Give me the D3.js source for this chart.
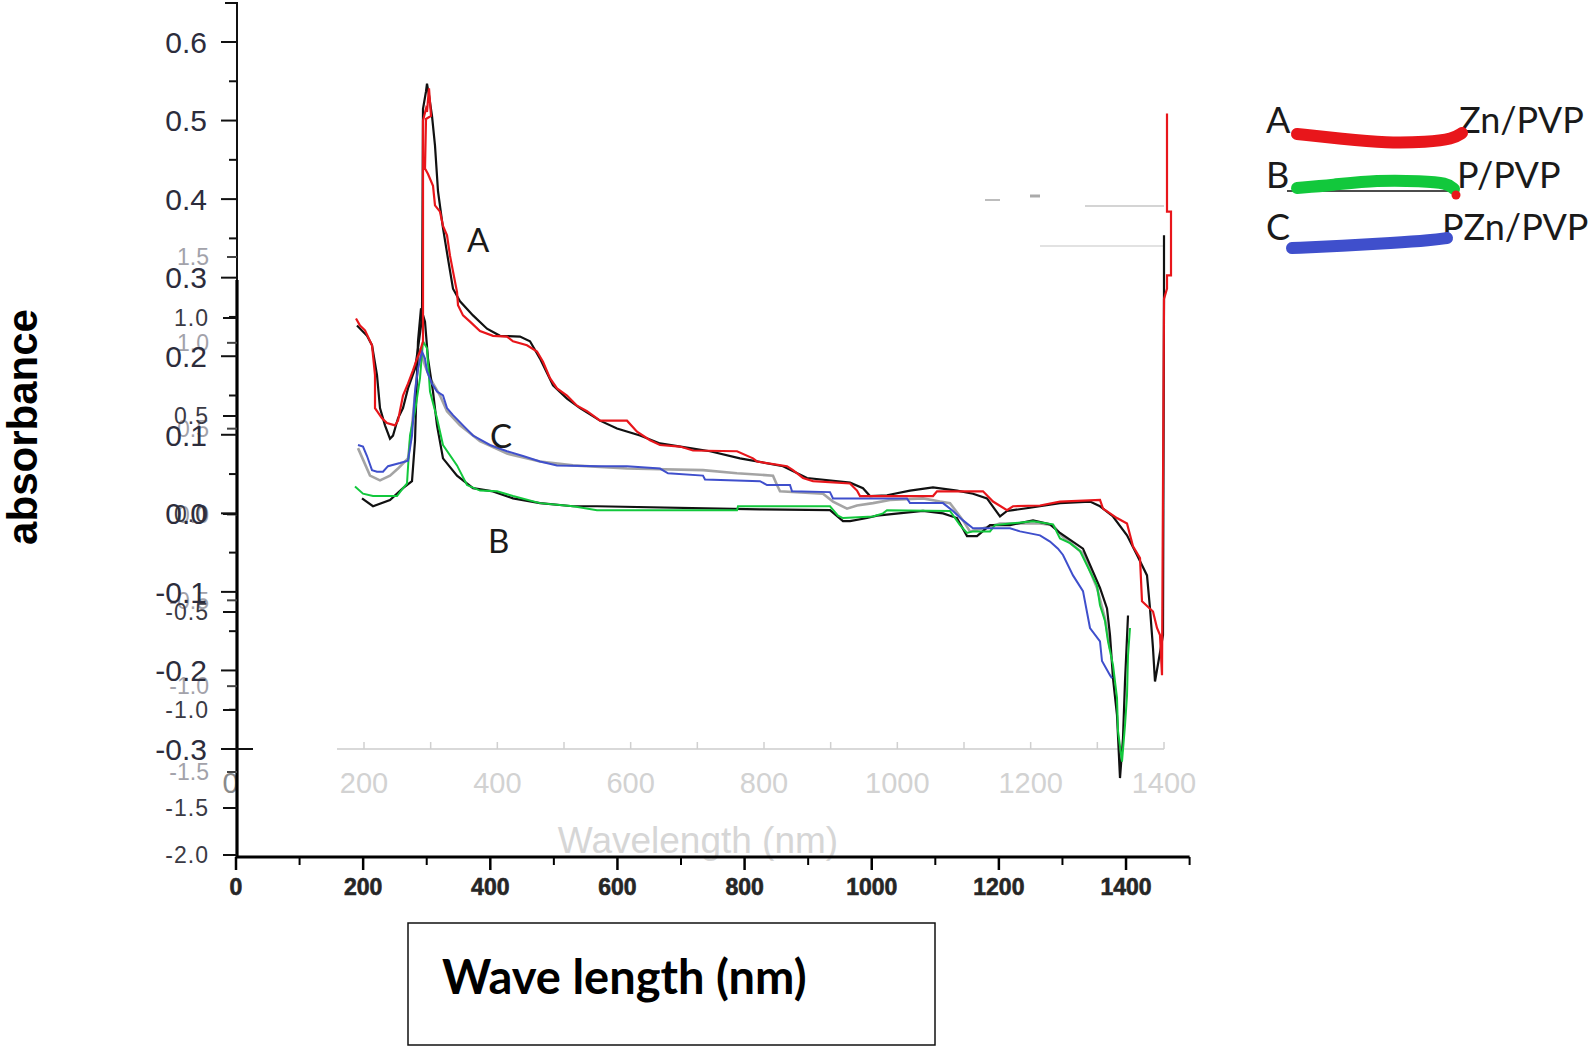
<!DOCTYPE html>
<html>
<head>
<meta charset="utf-8">
<script src="https://cdn.jsdelivr.net/npm/d3@7"></script>
<style>
  html, body { margin: 0; padding: 0; background: #fff; }
  svg { display: block; }
</style>
</head>
<body>
<svg id="chart" width="1594" height="1050"></svg>
<script>
// ---------------- DATA ----------------
// [wavelength (nm), absorbance]
const seriesA_red = [[188,0.248],[194,0.239],[201.5,0.233],[212,0.214],[216.5,0.176],[216.5,0.134],[227,0.121],[234.5,0.115],[246.5,0.112],[251,0.118],[258.5,0.150],[266,0.165],[273.5,0.182],[279.5,0.197],[284,0.206],[288.5,0.219],[288.5,0.500],[293,0.515],[294.5,0.511],[297.5,0.541],[300.5,0.506],[293,0.502],[291.5,0.439],[296,0.432],[303.5,0.417],[306.5,0.392],[314,0.384],[318.5,0.366],[324.5,0.354],[329,0.328],[333.5,0.308],[339.5,0.282],[341,0.265],[348.5,0.252],[359,0.244],[374,0.232],[393.5,0.226],[414.5,0.225],[423.5,0.219],[444.5,0.214],[459.5,0.206],[468.5,0.193],[479,0.172],[489.5,0.159],[504.5,0.150],[519.5,0.137],[534.5,0.130],[549.5,0.121],[554,0.118],[594.5,0.118],[609.5,0.104],[629,0.093],[644,0.087],[674,0.085],[693.5,0.080],[759.5,0.079],[783.5,0.070],[789.5,0.066],[834.5,0.060],[843.5,0.055],[858.5,0.045],[873.5,0.041],[929,0.038],[939.5,0.029],[944,0.022],[1053.5,0.022],[1059.5,0.028],[1128.5,0.028],[1143.5,0.015],[1164.5,0.004],[1173.5,0.009],[1214,0.010],[1244,0.015],[1304,0.017],[1308.5,0.006],[1329.5,-0.006],[1344.5,-0.013],[1353.5,-0.042],[1364,-0.057],[1367,-0.112],[1383.5,-0.125],[1389.5,-0.146],[1394,-0.155],[1397,-0.206],[1400,0.273],[1404.5,0.286],[1404.5,0.303],[1410.5,0.303],[1410.5,0.384],[1404.5,0.384],[1404.5,0.509]];

const seriesA_black = [[189.5,0.239],[204.5,0.226],[212,0.214],[219.5,0.176],[224,0.134],[231.5,0.112],[239,0.095],[243.5,0.099],[251,0.121],[258.5,0.134],[266,0.159],[276.5,0.184],[281,0.210],[287,0.248],[288.5,0.515],[293,0.537],[294.5,0.547],[297.5,0.532],[302,0.506],[306.5,0.468],[311,0.410],[318.5,0.363],[326,0.324],[333.5,0.286],[344,0.270],[363.5,0.252],[384.5,0.235],[404,0.226],[434,0.225],[449,0.219],[464,0.197],[483.5,0.163],[504.5,0.146],[524,0.134],[554,0.118],[579.5,0.108],[614,0.099],[644,0.089],[689,0.083],[719,0.079],[764,0.070],[828.5,0.060],[864.5,0.045],[929,0.039],[948.5,0.032],[959,0.022],[984.5,0.023],[1019,0.029],[1053.5,0.033],[1089.5,0.029],[1113.5,0.025],[1134.5,0.019],[1154,-0.004],[1164.5,0.003],[1173.5,0.004],[1214,0.009],[1244,0.013],[1289,0.015],[1304,0.009],[1323.5,-0.004],[1344.5,-0.028],[1359.5,-0.053],[1374.5,-0.079],[1379,-0.121],[1383.5,-0.172],[1386.5,-0.214],[1398.5,-0.155],[1400,0.273],[1400,0.354]];

const seriesB_green = [[186.5,0.034],[198.5,0.025],[213.5,0.022],[249.5,0.022],[258.5,0.032],[264.5,0.038],[269,0.099],[276.5,0.130],[284,0.172],[288.5,0.219],[294.5,0.210],[299,0.155],[309.5,0.121],[318.5,0.087],[339.5,0.061],[354.5,0.036],[374,0.029],[399.5,0.028],[423.5,0.022],[464,0.013],[513.5,0.009],[549.5,0.004],[759.5,0.004],[761,0.009],[899,0.009],[911,-0.003],[918.5,-0.006],[963.5,-0.004],[978.5,0.000],[984.5,0.004],[1079,0.003],[1094,-0.015],[1104.5,-0.025],[1113.5,-0.023],[1139,-0.023],[1146.5,-0.015],[1169,-0.013],[1203.5,-0.010],[1233.5,-0.014],[1244,-0.032],[1259,-0.038],[1274,-0.048],[1289,-0.074],[1299.5,-0.092],[1304,-0.117],[1311.5,-0.137],[1316,-0.163],[1323.5,-0.193],[1329.5,-0.235],[1331,-0.277],[1337,-0.316],[1341.5,-0.270],[1344.5,-0.232],[1346,-0.181],[1349,-0.146]];

const seriesB_black = [[197,0.019],[213.5,0.009],[239,0.017],[258.5,0.032],[272,0.041],[276.5,0.092],[281,0.219],[285.5,0.261],[291.5,0.244],[296,0.197],[303.5,0.155],[309.5,0.112],[318.5,0.070],[339.5,0.048],[363.5,0.032],[393.5,0.028],[423.5,0.019],[464,0.013],[513.5,0.009],[549.5,0.009],[794,0.005],[899,0.004],[918.5,-0.010],[929,-0.010],[954.5,-0.006],[969.5,-0.003],[1038.5,0.003],[1068.5,0.000],[1089.5,-0.006],[1104.5,-0.029],[1119.5,-0.029],[1139,-0.015],[1169,-0.015],[1203.5,-0.009],[1229,-0.014],[1244,-0.025],[1278.5,-0.045],[1304,-0.095],[1314.5,-0.121],[1319,-0.155],[1323.5,-0.210],[1329.5,-0.257],[1334,-0.337],[1338.5,-0.286],[1341.5,-0.214],[1346,-0.130]];

const seriesC_blue = [[191,0.087],[198.5,0.085],[204.5,0.073],[212,0.055],[219.5,0.053],[228.5,0.053],[236,0.060],[254,0.064],[266,0.067],[272,0.099],[276.5,0.155],[281,0.184],[287,0.206],[291.5,0.197],[294.5,0.181],[302,0.165],[309.5,0.155],[318.5,0.150],[324.5,0.134],[333.5,0.125],[348.5,0.112],[363.5,0.099],[389,0.087],[414.5,0.079],[438.5,0.073],[464,0.066],[489.5,0.061],[554,0.060],[594.5,0.060],[644,0.057],[656,0.051],[708.5,0.048],[711.5,0.043],[794,0.041],[804.5,0.036],[839,0.036],[842,0.028],[899,0.027],[903.5,0.019],[1014.5,0.019],[1019,0.013],[1068.5,0.013],[1083.5,0.003],[1098.5,-0.009],[1113.5,-0.019],[1169,-0.019],[1184,-0.023],[1214,-0.028],[1229,-0.036],[1241,-0.045],[1248.5,-0.053],[1263.5,-0.079],[1278.5,-0.099],[1289,-0.146],[1304,-0.163],[1307,-0.188],[1319,-0.206],[1322,-0.210]];

const seriesC_grey = [[191,0.083],[209,0.048],[224,0.042],[239,0.048],[251,0.057],[266,0.070],[272,0.112],[279.5,0.176],[284,0.210],[291.5,0.188],[299,0.172],[314,0.150],[324.5,0.130],[344,0.112],[374,0.092],[414.5,0.076],[464,0.066],[513.5,0.061],[594.5,0.057],[708.5,0.055],[759.5,0.051],[813.5,0.048],[819.5,0.036],[824,0.028],[888.5,0.025],[903.5,0.015],[924.5,0.006],[939.5,0.010],[963.5,0.013],[989,0.017],[1038.5,0.019],[1064,0.015],[1079,0.013],[1098.5,-0.009],[1109,-0.023],[1128.5,-0.019],[1154,-0.013],[1169,-0.013],[1214,-0.013],[1233.5,-0.015],[1247,-0.029],[1278.5,-0.051],[1299.5,-0.095],[1311.5,-0.134],[1319,-0.172]];

// axis ticks
const absTicks = [0.6,0.5,0.4,0.3,0.2,0.1,0.0,-0.1,-0.2,-0.3];
const absMinorTicks = [0.55,0.45,0.35,0.25,0.15,0.05,-0.05,-0.15,-0.25];
const ghostTicksA = [1.5,1.0,0.5,0.0,-0.5,-1.0,-1.5];
const ghostTicksB = [1.0,0.5,0.0,-0.5,-1.0,-1.5,-2.0];
const fadedWaveTicks = [0,200,400,600,800,1000,1200,1400];
const waveTicks = [0,200,400,600,800,1000,1200,1400];
const waveMinorTicks = [100,300,500,700,900,1100,1300,1500];

// labels
const curveLabels = ["A","B","C"];
const legendKeys = ["A","B","C"];
const legendNames = ["Zn/PVP","P/PVP","PZn/PVP"];
const legendColors = ["#e8161b","#12c83c","#3f4fcc"];
const yTitle = "absorbance";
const xTitleFaded = "Wavelength (nm)";
const xTitleBox = "Wave length (nm)";

// ---------------- DRAW ----------------
const svg = d3.select("#chart");
svg.append("rect").attr("width",1594).attr("height",1050).attr("fill","#fff");

// scales
const x = d3.scaleLinear().domain([200,1400]).range([364,1164]);
const y = d3.scaleLinear().domain([-0.3,0.6]).range([749,42]);
const yGhostA = d3.scaleLinear().domain([-1.5,1.5]).range([772,257]);
const yGhostB = d3.scaleLinear().domain([-2.0,-1.5,1.0]).range([855,808,318]);
const xb = d3.scaleLinear().domain([0,1500]).range([236,1189.6]);

const axisX = 237;

// faded inner wavelength axis (at absorbance -0.3)
const fa = svg.append("g").attr("class","faded-axis");
fa.append("line").attr("x1",337).attr("x2",x(1400)).attr("y1",y(-0.3)).attr("y2",y(-0.3))
  .attr("stroke","#d9d9d9").attr("stroke-width",2);
fa.selectAll(".ft").data(d3.range(200,1401,100)).enter().append("line")
  .attr("x1",d=>x(d)).attr("x2",d=>x(d)).attr("y1",y(-0.3)).attr("y2",y(-0.3)-7)
  .attr("stroke","#d0d0d0").attr("stroke-width",1.5);
fa.selectAll(".fl").data(fadedWaveTicks).enter().append("text")
  .attr("x",d=>x(d)).attr("y",793).attr("text-anchor","middle")
  .attr("font-family","Liberation Sans, Arial, sans-serif").attr("font-size",29)
  .attr("fill",d=>d===0?"#8a8a8a":"#d2d2d2").text(d=>d);
fa.append("text").attr("x",698).attr("y",853).attr("text-anchor","middle")
  .attr("font-family","Liberation Sans, Arial, sans-serif").attr("font-size",37)
  .attr("fill","#d6d6d6").text(xTitleFaded);

// faint ghost marks near top right
const gm = svg.append("g").attr("opacity",0.55);
gm.append("line").attr("x1",1085).attr("x2",1164).attr("y1",206).attr("y2",206).attr("stroke","#999").attr("stroke-width",1.5);
gm.append("line").attr("x1",1040).attr("x2",1163).attr("y1",246).attr("y2",246).attr("stroke","#bbb").attr("stroke-width",1.5);
gm.append("line").attr("x1",985).attr("x2",1000).attr("y1",200).attr("y2",200).attr("stroke","#888").attr("stroke-width",2);
gm.append("line").attr("x1",1030).attr("x2",1040).attr("y1",196).attr("y2",196).attr("stroke","#666").attr("stroke-width",3);

// curves
const line = d3.line().x(d=>x(d[0])).y(d=>y(d[1]));
function drawSeries(data, color, width, opacity){
  svg.append("path").datum(data).attr("d",line).attr("fill","none")
    .attr("stroke",color).attr("stroke-width",width).attr("stroke-linejoin","miter")
    .attr("opacity",opacity||1);
}
drawSeries(seriesC_grey,"#9a9a9a",2.6,0.9);
drawSeries(seriesA_black,"#111",2.2);
drawSeries(seriesB_black,"#111",2.2);
drawSeries(seriesB_green,"#12c83c",2);
drawSeries(seriesC_blue,"#3f4fcc",2);
drawSeries(seriesA_red,"#e8161b",2.2);

// curve labels
const lblPos = [[467,252],[488,553],[490,448]];
svg.selectAll(".clab").data(curveLabels).enter().append("text")
  .attr("x",(d,i)=>lblPos[i][0]).attr("y",(d,i)=>lblPos[i][1])
  .attr("font-family","Lato, 'Open Sans', sans-serif").attr("font-size",33)
  .attr("fill","#1a1a1a").text(d=>d);

// ---------- left axis ----------
const la = svg.append("g");
la.append("line").attr("x1",axisX).attr("x2",axisX).attr("y1",2).attr("y2",282).attr("stroke","#111").attr("stroke-width",2);
la.append("line").attr("x1",axisX).attr("x2",axisX).attr("y1",280).attr("y2",858).attr("stroke","#000").attr("stroke-width",3.2);
la.append("line").attr("x1",axisX-12).attr("x2",axisX).attr("y1",3).attr("y2",3).attr("stroke","#111").attr("stroke-width",2);
// primary ticks
la.selectAll(".pt").data(absTicks).enter().append("line")
  .attr("x1",axisX-16).attr("x2",d=>d===-0.3?axisX+16:axisX).attr("y1",d=>y(d)).attr("y2",d=>y(d))
  .attr("stroke","#111").attr("stroke-width",2);
la.selectAll(".pm").data(absMinorTicks).enter().append("line")
  .attr("x1",axisX-8).attr("x2",axisX).attr("y1",d=>y(d)).attr("y2",d=>y(d))
  .attr("stroke","#111").attr("stroke-width",2);
// ghost ticks
la.selectAll(".gta").data(ghostTicksA).enter().append("line")
  .attr("x1",axisX-10).attr("x2",axisX).attr("y1",d=>yGhostA(d)).attr("y2",d=>yGhostA(d))
  .attr("stroke","#444").attr("stroke-width",2);
la.selectAll(".gtb").data(ghostTicksB).enter().append("line")
  .attr("x1",axisX-14).attr("x2",axisX).attr("y1",d=>yGhostB(d)).attr("y2",d=>yGhostB(d))
  .attr("stroke","#111").attr("stroke-width",2);

// ghost labels (drawn first, beneath primary)
la.selectAll(".gla").data(ghostTicksA).enter().append("text")
  .attr("x",209).attr("y",d=>yGhostA(d)).attr("dy","0.36em").attr("text-anchor","end")
  .attr("font-family","Liberation Sans, Arial, sans-serif").attr("font-size",23)
  .attr("fill","#8c8c96").attr("opacity",0.8).text(d=>d.toFixed(1));
la.selectAll(".glb").data(ghostTicksB).enter().append("text")
  .attr("x",209).attr("y",d=>yGhostB(d)).attr("dy","0.36em").attr("text-anchor","end")
  .attr("font-family","Liberation Sans, Arial, sans-serif").attr("font-size",23)
  .attr("letter-spacing",1).attr("fill","#3a3a44").text(d=>d.toFixed(1));
// primary labels
la.selectAll(".pl").data(absTicks).enter().append("text")
  .attr("x",207).attr("y",d=>y(d)).attr("dy","0.36em").attr("text-anchor","end")
  .attr("font-family","Liberation Sans, Arial, sans-serif").attr("font-size",30)
  .attr("fill","#2c2c3c").text(d=>d.toFixed(1));

// y title
svg.append("text").attr("transform","translate(37,427) rotate(-90)")
  .attr("text-anchor","middle").attr("font-family","Liberation Sans, Arial, sans-serif")
  .attr("font-weight","bold").attr("font-size",42).attr("fill","#000").text(yTitle);

// ---------- bottom axis ----------
const ba = svg.append("g");
ba.append("line").attr("x1",axisX-1).attr("x2",xb(1500)).attr("y1",857).attr("y2",857).attr("stroke","#000").attr("stroke-width",3);
ba.selectAll(".bt").data(waveTicks).enter().append("line")
  .attr("x1",d=>xb(d)).attr("x2",d=>xb(d)).attr("y1",857).attr("y2",870)
  .attr("stroke","#000").attr("stroke-width",2.5);
ba.selectAll(".bm").data(waveMinorTicks).enter().append("line")
  .attr("x1",d=>xb(d)).attr("x2",d=>xb(d)).attr("y1",857).attr("y2",865)
  .attr("stroke","#000").attr("stroke-width",2);
ba.selectAll(".bl").data(waveTicks).enter().append("text")
  .attr("x",d=>xb(d)).attr("y",895).attr("text-anchor","middle")
  .attr("font-family","Liberation Sans, Arial, sans-serif").attr("font-weight","bold")
  .attr("font-size",23).attr("fill","#262626").attr("stroke","#262626").attr("stroke-width",0.6)
  .text(d=>d);

// boxed x title
svg.append("rect").attr("x",408).attr("y",923).attr("width",527).attr("height",122)
  .attr("fill","#fff").attr("stroke","#111").attr("stroke-width",1.5);
svg.append("text").attr("x",442).attr("y",994)
  .attr("font-family","Lato, 'Open Sans', sans-serif").attr("font-weight","bold")
  .attr("font-size",47).attr("fill","#000").text(xTitleBox);

// ---------- legend ----------
const lg = svg.append("g");
const rowY = [133,188,240];
const nameX = [1459,1457,1442];
lg.selectAll(".lk").data(legendKeys).enter().append("text")
  .attr("x",1266).attr("y",(d,i)=>rowY[i])
  .attr("font-family","Lato, 'Open Sans', sans-serif").attr("font-size",36)
  .attr("fill","#1a1a1a").text(d=>d);
lg.selectAll(".ln").data(legendNames).enter().append("text")
  .attr("x",(d,i)=>nameX[i]).attr("y",(d,i)=>rowY[i])
  .attr("font-family","Lato, 'Open Sans', sans-serif").attr("font-size",36)
  .attr("fill","#1a1a1a").text(d=>d);
// hand-drawn swatches
const swatchShapes = [
  [[0,0],[45,5],[90,9],[130,8],[156,5],[165,-1]],
  [[0,0],[35,-3],[80,-8],[125,-7],[150,-5],[157,1]],
  [[0,0],[50,-2],[100,-5],[140,-8],[155,-10]]
];
const swatchOrigins = [[1297,134],[1297,188],[1292,248]];
const swLine = d3.line().curve(d3.curveBasis);
// thin black line under green swatch
lg.append("line").attr("x1",1287).attr("x2",1452).attr("y1",191).attr("y2",191).attr("stroke","#111").attr("stroke-width",1.5);
lg.selectAll(".sw").data(legendColors).enter().append("path")
  .attr("d",(d,i)=>swLine(swatchShapes[i].map(p=>[p[0]+swatchOrigins[i][0],p[1]+swatchOrigins[i][1]])))
  .attr("fill","none").attr("stroke",d=>d).attr("stroke-width",12).attr("stroke-linecap","round");
lg.append("circle").attr("cx",1456).attr("cy",195).attr("r",4.5).attr("fill",legendColors[0]);
</script>
</body>
</html>
